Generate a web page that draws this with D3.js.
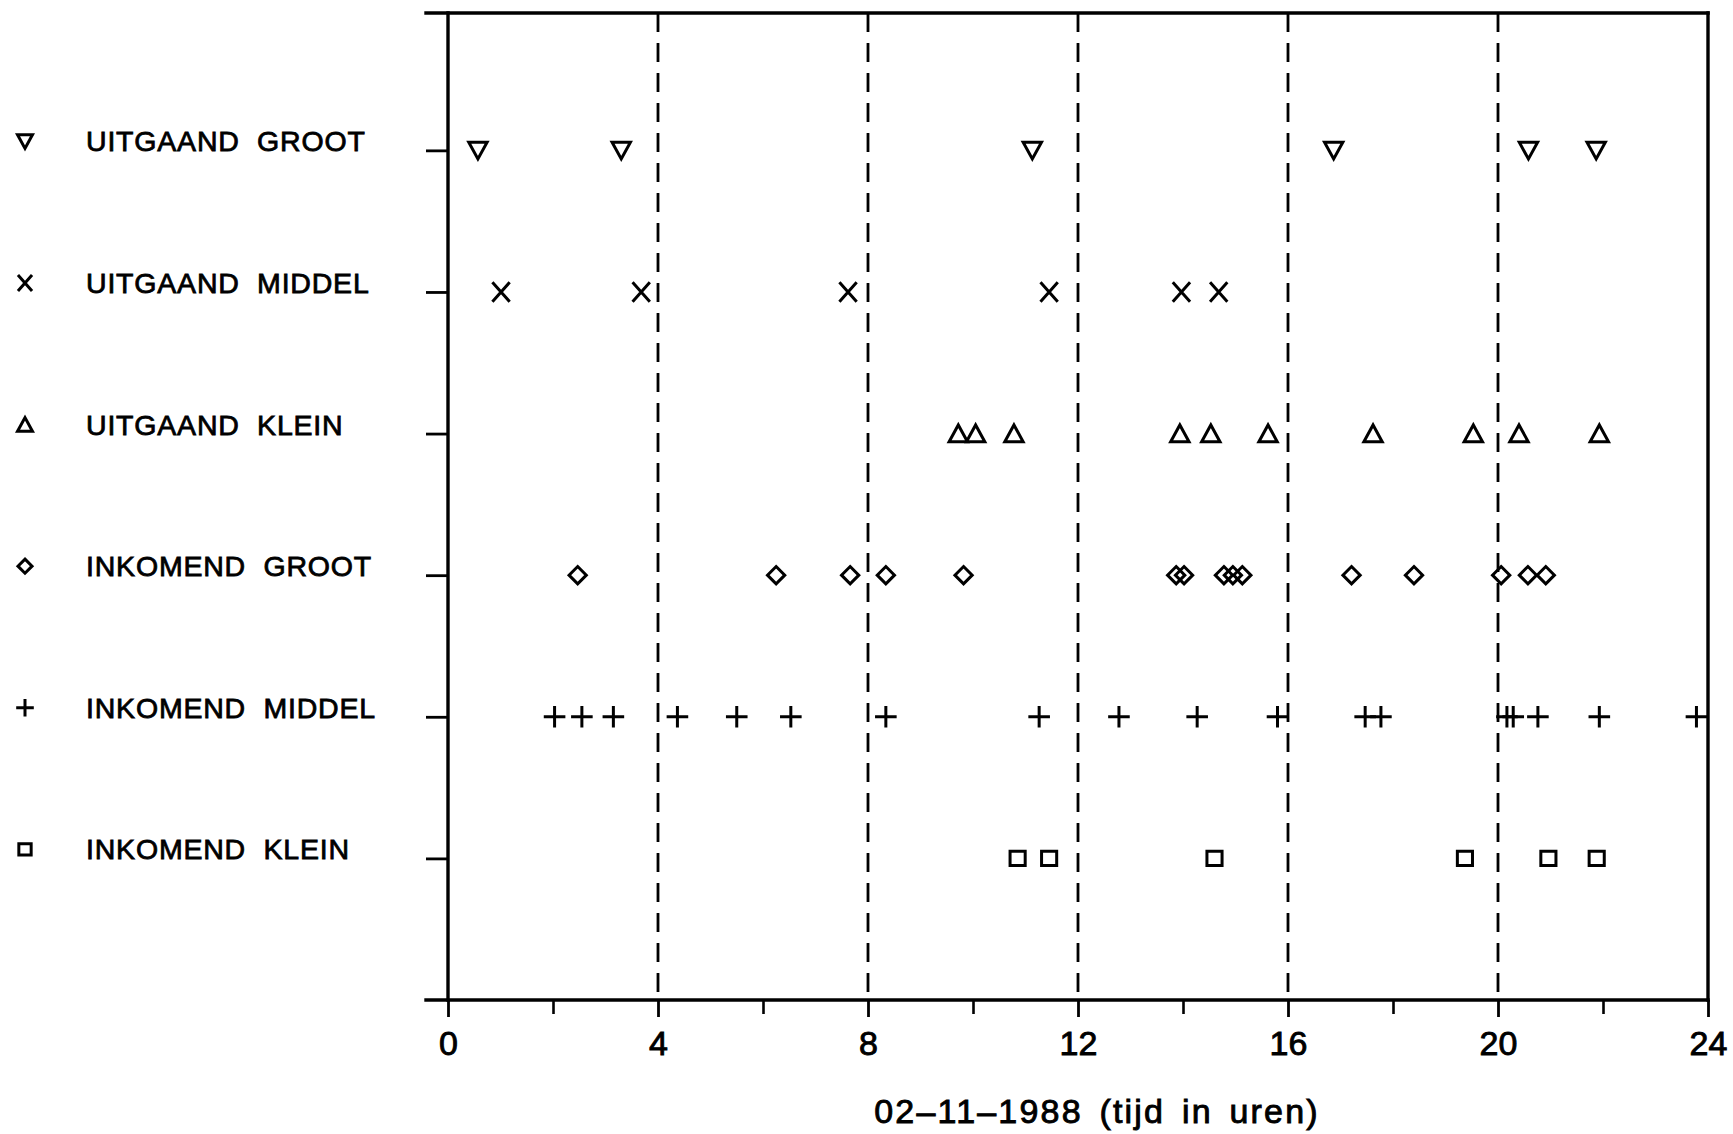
<!DOCTYPE html>
<html>
<head>
<meta charset="utf-8">
<script src="https://cdn.jsdelivr.net/npm/d3@7"></script>
<style>
  body { margin: 0; background: #fff; }
  text { font-family: "Liberation Sans", Arial, sans-serif; fill: #000; }
</style>
</head>
<body>
<div id="chart"></div>
<script>
// tick labels (hours)
var hourTicks = [0, 4, 8, 12, 16, 20, 24];
var minorTicks = [2, 6, 10, 14, 18, 22];
var gridHours = [4, 8, 12, 16, 20];

var categories = ["UITGAAND  GROOT", "UITGAAND  MIDDEL", "UITGAAND  KLEIN",
                  "INKOMEND  GROOT", "INKOMEND  MIDDEL", "INKOMEND  KLEIN"];

// times (hours)
var uitgaandGroot  = [0.57, 3.3, 11.13, 16.87, 20.58, 21.87];
var uitgaandMiddel = [1.01, 3.68, 7.62, 11.45, 13.97, 14.68];
var uitgaandKlein  = [9.72, 10.05, 10.78, 13.94, 14.53, 15.62, 17.62, 19.53, 20.4, 21.93];
var inkomendGroot  = [2.47, 6.25, 7.66, 8.34, 9.82, 13.87, 14.02, 14.78, 14.95, 15.13,
                      17.21, 18.4, 20.06, 20.57, 20.91];
var inkomendMiddel = [2.03, 2.55, 3.15, 4.37, 5.5, 6.53, 8.34, 11.26, 12.78, 14.27, 15.8,
                      17.47, 17.77, 20.17, 20.29, 20.76, 21.93, 23.78];
var inkomendKlein  = [10.85, 11.45, 14.6, 19.37, 20.96, 21.88];

var xTitle = "02\u201311\u20131988 (tijd in uren)";

var series = [uitgaandGroot, uitgaandMiddel, uitgaandKlein, inkomendGroot, inkomendMiddel, inkomendKlein];

// marker shapes as d3 symbol types (size used as scale factor)
var triDown = { draw: function(c, s) { c.moveTo(-8.5*s, -7.5*s); c.lineTo(8.5*s, -7.5*s); c.lineTo(0, 8*s); c.closePath(); } };
var times   = { draw: function(c, s) { c.moveTo(-8*s, -9*s); c.lineTo(8*s, 9*s); c.moveTo(-8*s, 9*s); c.lineTo(8*s, -9*s); } };
var triUp   = { draw: function(c, s) { c.moveTo(-8.5*s, 7.5*s); c.lineTo(8.5*s, 7.5*s); c.lineTo(0, -8*s); c.closePath(); } };
var diamond = { draw: function(c, s) { c.moveTo(0, -8*s); c.lineTo(8*s, 0); c.lineTo(0, 8*s); c.lineTo(-8*s, 0); c.closePath(); } };
var plus    = { draw: function(c, s) { c.moveTo(-10*s, 0); c.lineTo(10*s, 0); c.moveTo(0, -10*s); c.lineTo(0, 10*s); } };
var square  = { draw: function(c, s) { c.moveTo(-7*s, -6.5*s); c.lineTo(7*s, -6.5*s); c.lineTo(7*s, 6.5*s); c.lineTo(-7*s, 6.5*s); c.closePath(); } };
var shapes = [triDown, times, triUp, diamond, plus, square];

var width = 1733, height = 1134;

var svg = d3.select("#chart")
    .append("svg")
        .attr("width", width)
        .attr("height", height);

var x = d3.scaleLinear()
    .domain([0, 24])
    .range([448, 1708]);

var y = d3.scaleLinear()
    .domain([0, 6.97])
    .range([1000, 13]);

var rowOf = function(i) { return 6 - i; };

// dashed verticals
svg.selectAll(".grid")
    .data(gridHours)
    .enter()
    .append("line")
    .attr("class", "grid")
    .attr("x1", d => x(d)).attr("x2", d => x(d))
    .attr("y1", y(6.97)).attr("y2", y(0))
    .attr("stroke", "#000")
    .attr("stroke-width", 2.8)
    .attr("stroke-dasharray", "19,11");

// bottom axis
var xAxis = svg.append("g")
    .attr("transform", "translate(0," + y(0) + ")")
    .call(d3.axisBottom(x).tickValues(hourTicks).tickSize(17).tickSizeOuter(0).tickPadding(14));
xAxis.select(".domain").remove();
xAxis.selectAll("line").attr("stroke-width", 2.8);
xAxis.selectAll("text")
    .style("font-size", "34px")
    .attr("stroke", "#000")
    .attr("stroke-width", 0.9);

var xMinor = svg.append("g")
    .attr("transform", "translate(0," + y(0) + ")")
    .call(d3.axisBottom(x).tickValues(minorTicks).tickSize(14).tickSizeOuter(0).tickFormat(""));
xMinor.select(".domain").remove();
xMinor.selectAll("line").attr("stroke-width", 2.6);

// left axis ticks (one per category)
var yAxis = svg.append("g")
    .attr("transform", "translate(" + x(0) + ",0)")
    .call(d3.axisLeft(y).tickValues([1, 2, 3, 4, 5, 6]).tickSize(22).tickSizeOuter(0).tickFormat(""));
yAxis.select(".domain").remove();
yAxis.selectAll("line").attr("stroke-width", 2.8);

// frame
var frame = [
    [x(0) - 22, y(0), x(24), y(0)],
    [x(0) - 22, y(6.97), x(24), y(6.97)],
    [x(0), y(0), x(0), y(6.97)],
    [x(24), y(0), x(24), y(6.97)]
];
svg.selectAll(".frame")
    .data(frame)
    .enter()
    .append("line")
    .attr("class", "frame")
    .attr("x1", d => d[0]).attr("y1", d => d[1])
    .attr("x2", d => d[2]).attr("y2", d => d[3])
    .attr("stroke", "#000")
    .attr("stroke-width", 3.4)
    .attr("stroke-linecap", "square");

// markers
series.forEach(function(vals, i) {
    var sym = d3.symbol().type(shapes[i]).size(1.08);
    svg.selectAll(".m" + i)
        .data(vals)
        .enter()
        .append("path")
        .attr("class", "m" + i)
        .attr("transform", d => "translate(" + x(d) + "," + y(rowOf(i)) + ")")
        .attr("d", sym)
        .attr("fill", "none")
        .attr("stroke", "#000")
        .attr("stroke-width", 3);
});

// legend on the left
var legend = svg.selectAll(".legend")
    .data(categories)
    .enter()
    .append("g")
    .attr("class", "legend")
    .attr("transform", (d, i) => "translate(0," + y(rowOf(i)) + ")");

legend.append("path")
    .attr("transform", "translate(25,-9)")
    .attr("d", (d, i) => d3.symbol().type(shapes[i]).size(0.88)())
    .attr("fill", "none")
    .attr("stroke", "#000")
    .attr("stroke-width", 3);

legend.append("text")
    .attr("x", 86)
    .attr("y", 1)
    .style("font-size", "28.5px")
    .style("letter-spacing", "0.8px")
    .style("white-space", "pre")
    .attr("stroke", "#000")
    .attr("stroke-width", 0.8)
    .text(d => d);

// axis title
svg.append("text")
    .attr("x", 1097)
    .attr("y", 1123)
    .attr("text-anchor", "middle")
    .style("font-size", "34px")
    .style("letter-spacing", "2.2px")
    .style("word-spacing", "5px")
    .attr("stroke", "#000")
    .attr("stroke-width", 0.9)
    .text(xTitle);
</script>
</body>
</html>
